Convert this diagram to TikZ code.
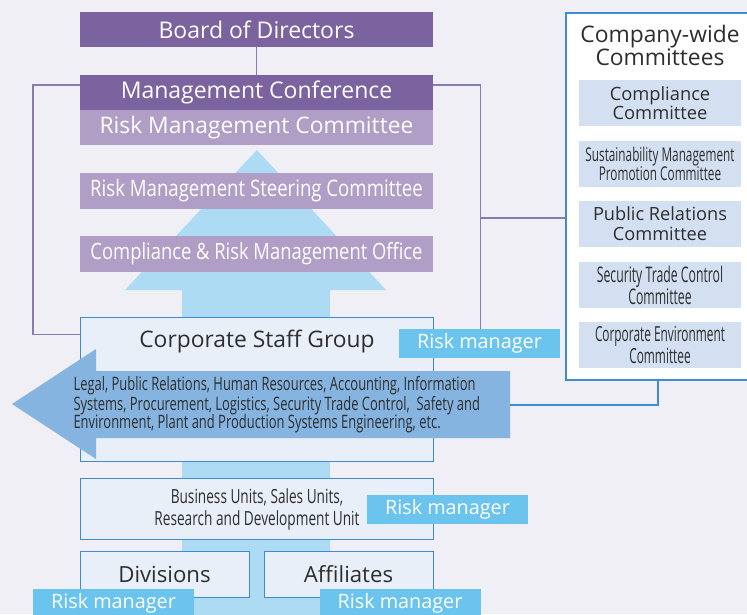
\documentclass[tikz,border=0pt]{standalone}
\usepackage{fontspec}
\setmainfont{Open Sans}
\newfontfamily\condA[FakeStretch=0.82]{Open Sans}
\newfontfamily\condB[FakeStretch=0.70]{Open Sans}
\newfontfamily\condC[FakeStretch=0.62]{Open Sans}
\newfontfamily\condD[FakeStretch=0.57]{Open Sans}
\usetikzlibrary{calc}
\definecolor{bgc}{HTML}{F0EFF6}
\definecolor{dpurp}{HTML}{7B63A0}
\definecolor{lpurp}{HTML}{B09EC6}
\definecolor{lineP}{HTML}{8B79B3}
\definecolor{upc}{HTML}{ADDBF4}
\definecolor{leftc}{HTML}{86B4E0}
\definecolor{boxf}{HTML}{E9EFF9}
\definecolor{boxd}{HTML}{3D8CD2}
\definecolor{rmc}{HTML}{6BC4EE}
\definecolor{comf}{HTML}{D3E0F1}
\definecolor{txt}{HTML}{2E2E2E}
\tikzset{
  pbox/.style={rectangle, inner sep=0pt, minimum width=353pt, minimum height=35pt, text=white},
  dbox/.style={pbox, fill=dpurp},
  lbox/.style={pbox, fill=lpurp},
  ubox/.style={rectangle, draw=boxd, line width=1pt, fill=boxf, inner sep=0pt},
  rmbox/.style={rectangle, fill=rmc, text=white, inner sep=0pt, minimum width=161pt, minimum height=29pt,
    font=\fontsize{19.8}{22}\selectfont},
  cbox/.style={rectangle, fill=comf, text=txt, inner sep=0pt, minimum width=162pt, minimum height=46pt, align=center},
  pline/.style={draw=lineP, line width=1.4pt},
  bline/.style={draw=boxd, line width=1.4pt},
}
\begin{document}
\begin{tikzpicture}[x=1pt,y=-1pt]
\fill[bgc] (0,0) rectangle (747,614);
\useasboundingbox (0,0) rectangle (747,614);
\clip (0,0) rectangle (747,614);
% big up arrow
\fill[upc] (257,150) -- (386,290) -- (330,290) -- (330,620) -- (182,620) -- (182,290) -- (125,290) -- cycle;
% company-wide box
\node[rectangle, draw=boxd, line width=1.3pt, fill=white, minimum width=184pt, minimum height=367pt, inner sep=0pt] (CW) at (658,196.5) {};
\node[text=txt, align=center, font=\fontsize{22.8}{22}\selectfont] (CWt) at (660,45.5) {Company-wide\\Committees};
\node[cbox, font=\fontsize{18.3}{19}\selectfont] (cc) at (660,103) {Compliance\\Committee};
\node[cbox, font=\condC\fontsize{19}{19}\selectfont] (sm) at (660,164) {Sustainability Management\\Promotion Committee};
\node[cbox, font=\fontsize{18.2}{20}\selectfont] (pr) at (660,224) {Public Relations\\Committee};
\node[cbox, font=\condD\fontsize{21.5}{19}\selectfont] (st) at (660,285) {Security Trade Control\\Committee};
\node[cbox, font=\condD\fontsize{20.8}{19}\selectfont] (ce) at (660,345) {Corporate Environment\\Committee};
% purple boxes
\node[dbox, font=\fontsize{23}{24}\selectfont] (BD) at (256.5,29.5) {Board of Directors};
\node[dbox, font=\fontsize{23}{24}\selectfont] (MC) at (256.5,92.5) {Management Conference};
\node[lbox, font=\fontsize{22.8}{24}\selectfont] (RMC) at (256.5,127.5) {Risk Management Committee};
\node[lbox, minimum height=36pt, font=\condA\fontsize{22.7}{24}\selectfont] (RMSC) at (256.5,191) {Risk Management Steering Committee};
\node[lbox, minimum height=36pt, font=\condA\fontsize{22.4}{24}\selectfont] (CRMO) at (256.5,254) {Compliance \& Risk Management Office};
% unit boxes
\node[ubox, minimum width=353pt, minimum height=144pt] (CSG) at (256.5,389) {};
\node[text=txt, font=\fontsize{22.8}{24}\selectfont] (CSGt) at (257,342) {Corporate Staff Group};
\node[ubox, minimum width=353pt, minimum height=61pt] (BU) at (256.5,508.5) {};
\node[text=txt, align=center, font=\condB\fontsize{19.5}{22}\selectfont] (BUt) at (257,509) {Business Units, Sales Units,\\Research and Development Unit};
\node[ubox, minimum width=169pt, minimum height=46pt, text=txt, font=\fontsize{22.2}{24}\selectfont] (DV) at (164.5,574) {Divisions};
\node[ubox, minimum width=169pt, minimum height=46pt, text=txt, font=\fontsize{22.2}{24}\selectfont] (AF) at (348.5,574) {Affiliates};
% connectors
\draw[pline] (BD.south) -- (MC.north);
\draw[pline] ($(MC.north west)+(0,10)$) -- ++(-47,0) |- ($(CSG.north west)+(0,18)$);
\draw[pline] ($(MC.north east)+(0,10)$) -- ++(47,0) coordinate (jR) |- ($(CSG.north east)+(0,18)$);
\coordinate (jM) at (480,218);
\draw[pline] (jM) -- (jM -| CW.west);
% left arrow
\fill[leftc] (12,404) -- (96,349) -- (96,371) -- (510,371) -- (510,438) -- (96,438) -- (96,459) -- cycle;
\coordinate (arR) at (510,405);
\node[anchor=west, text=txt, align=left, font=\condB\fontsize{18.5}{18.5}\selectfont] (LT) at (70,405)
  {Legal, Public Relations, Human Resources, Accounting, Information\\Systems, Procurement, Logistics, Security Trade Control,\ \ Safety and\\Environment, Plant and Production Systems Engineering, etc.};
\draw[bline] (arR) -| (CW.south);
% risk manager labels
\node[rmbox] (rm1) at (479.5,343.5) {Risk manager};
\node[rmbox] (rm2) at (447.5,509.5) {Risk manager};
\node[rmbox] (rm3) at (113.5,603.5) {Risk manager};
\node[rmbox] (rm4) at (400,603.5) {Risk manager};
\end{tikzpicture}
\end{document}
